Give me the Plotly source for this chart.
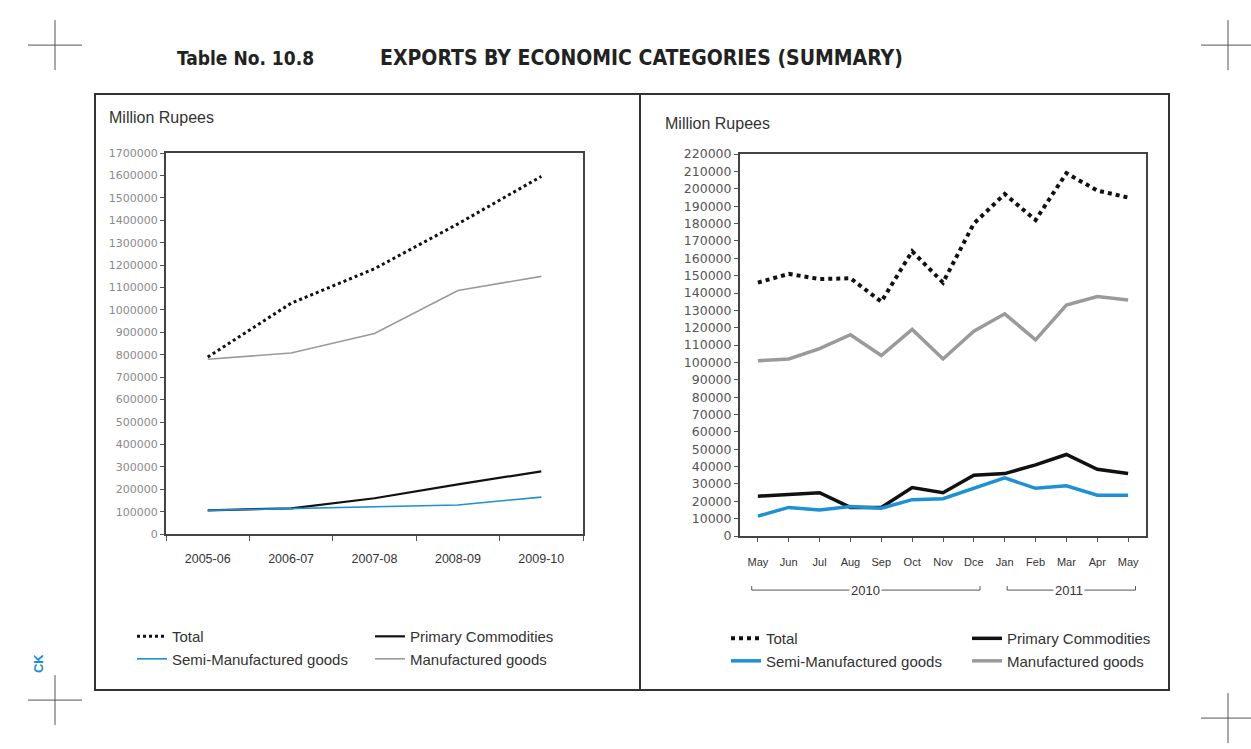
import plotly.graph_objects as go

W, H = 1251, 749

# ---------------- data ----------------
years = ["2005-06", "2006-07", "2007-08", "2008-09", "2009-10"]
y_total = [790000, 1030000, 1184000, 1384000, 1596000]
y_primary = [106000, 115000, 160000, 222000, 280000]
y_semi = [106000, 115000, 122000, 130000, 165000]
y_manuf = [780000, 808000, 895000, 1087000, 1150000]

months = ["May", "Jun", "Jul", "Aug", "Sep", "Oct", "Nov", "Dce", "Jan", "Feb", "Mar", "Apr", "May"]
m_total = [146000, 151000, 148000, 148500, 135000, 164000, 146000, 180000, 197000, 182000, 209000, 199000, 195000]
m_primary = [23000, 24000, 25000, 16500, 16500, 28000, 25000, 35000, 36000, 41000, 47000, 38500, 36000]
m_semi = [11500, 16500, 15000, 17000, 16000, 21000, 21500, 27500, 33500, 27500, 29000, 23500, 23500]
m_manuf = [101000, 102000, 108000, 116000, 104000, 119000, 102000, 118000, 128000, 113000, 133000, 138000, 136000]
month_idx = list(range(len(months)))

left_yticks = list(range(0, 1700001, 100000))
right_yticks = list(range(0, 220001, 10000))

BLACK = "#111111"
BLUE = "#1e90d4"
GRAY = "#9a9a9a"
SANS = "Liberation Sans, Arial, sans-serif"
NARROW = "Liberation Sans Narrow, DejaVu Sans Condensed, Arial Narrow, sans-serif"


def px(x):
    return x / W


def py(y):
    # vertical pixel (from top) -> paper fraction, compensating the observed vertical squeeze
    return 1 - ((y - 7.9) / 0.98) / H


fig = go.Figure()

# ---------------- left chart ----------------
fig.add_trace(go.Scatter(x=years, y=y_primary, name="Primary Commodities", mode="lines",
                         line=dict(color=BLACK, width=2.2), xaxis="x", yaxis="y",
                         legend="legend2", legendrank=1, legendgroup="lp"))
fig.add_trace(go.Scatter(x=years, y=y_semi, name="Semi-Manufactured goods", mode="lines",
                         line=dict(color=BLUE, width=1.6), xaxis="x", yaxis="y",
                         legend="legend", legendrank=2, legendgroup="ls"))
fig.add_trace(go.Scatter(x=years, y=y_manuf, name="Manufactured goods", mode="lines",
                         line=dict(color=GRAY, width=1.6), xaxis="x", yaxis="y",
                         legend="legend2", legendrank=2, legendgroup="lm"))
fig.add_trace(go.Scatter(x=years, y=y_total, name="Total", mode="lines",
                         line=dict(color=BLACK, width=3, dash="dot"), xaxis="x", yaxis="y",
                         legend="legend", legendrank=1, legendgroup="lt"))

# ---------------- right chart ----------------
fig.add_trace(go.Scatter(x=month_idx, y=m_primary, name="Primary Commodities", mode="lines",
                         line=dict(color=BLACK, width=3.5), xaxis="x2", yaxis="y2",
                         legend="legend4", legendrank=1, legendgroup="rp"))
fig.add_trace(go.Scatter(x=month_idx, y=m_semi, name="Semi-Manufactured goods", mode="lines",
                         line=dict(color=BLUE, width=3.5), xaxis="x2", yaxis="y2",
                         legend="legend3", legendrank=2, legendgroup="rs"))
fig.add_trace(go.Scatter(x=month_idx, y=m_manuf, name="Manufactured goods", mode="lines",
                         line=dict(color=GRAY, width=3.5), xaxis="x2", yaxis="y2",
                         legend="legend4", legendrank=2, legendgroup="rm"))
fig.add_trace(go.Scatter(x=month_idx, y=m_total, name="Total", mode="lines",
                         line=dict(color=BLACK, width=4, dash="dot"), xaxis="x2", yaxis="y2",
                         legend="legend3", legendrank=1, legendgroup="rt"))

frame = dict(showline=True, mirror=True, linewidth=2, linecolor="#444444",
             showgrid=False, zeroline=False, ticks="outside", tickcolor="#555555")

fig.update_layout(
    width=W, height=H,
    margin=dict(l=0, r=0, t=0, b=0),
    paper_bgcolor="white", plot_bgcolor="white",
    font=dict(family=SANS, color="#333333"),
    xaxis=dict(domain=[px(166), px(583)], type="category", range=[-0.5, 4.5],
               tickson="boundaries", ticklen=5, ticklabelstandoff=12,
               tickfont=dict(family=SANS, size=12.5, color="#333333"), **frame),
    yaxis=dict(domain=[py(534), py(153)], range=[0, 1700000], tickvals=left_yticks,
               tickformat="d", ticklen=4,
               tickfont=dict(family="DejaVu Sans, sans-serif", size=11, color="#8a8a8a"), **frame),
    xaxis2=dict(domain=[px(740), px(1146)], range=[-0.58, 12.58], tickvals=month_idx,
                ticktext=months, ticklen=4, anchor="y2", ticklabelstandoff=11,
                tickfont=dict(family=SANS, size=11, color="#333333"), **frame),
    yaxis2=dict(domain=[py(536), py(154)], range=[0, 220000], tickvals=right_yticks,
                tickformat="d", ticklen=4, anchor="x2",
                tickfont=dict(family="DejaVu Sans, sans-serif", size=12.5, color="#555555"), **frame),
)

leg_common = dict(orientation="v", xanchor="left", yanchor="top", bgcolor="rgba(0,0,0,0)",
                  font=dict(family=SANS, size=15, color="#333333"), itemwidth=30,
                  traceorder="grouped", tracegroupgap=0)
fig.update_layout(
    legend=dict(x=px(132), y=py(620), **leg_common),
    legend2=dict(x=px(370), y=py(620), **leg_common),
    legend3=dict(x=px(726), y=py(622), **leg_common),
    legend4=dict(x=px(967), y=py(622), **leg_common),
)

shapes = []
# outer box and divider
shapes.append(dict(type="rect", xref="paper", yref="paper", x0=px(95), x1=px(1169),
                   y0=py(690), y1=py(94), line=dict(color="#333333", width=2)))
shapes.append(dict(type="line", xref="paper", yref="paper", x0=px(640), x1=px(640),
                   y0=py(690), y1=py(94), line=dict(color="#333333", width=2)))
# crop marks
for cx, cy in [(55, 45), (1228, 45), (55, 700), (1228, 718)]:
    shapes.append(dict(type="line", xref="paper", yref="paper", x0=px(cx - 27), x1=px(min(cx + 27, W)),
                       y0=py(cy), y1=py(cy), line=dict(color="#555555", width=1)))
    shapes.append(dict(type="line", xref="paper", yref="paper", x0=px(cx), x1=px(cx),
                       y0=py(cy - 25), y1=py(cy + 25), line=dict(color="#555555", width=1)))
# year brackets (in x2 data coordinates)
for a, b in [(-0.2, 7.2), (8.08, 12.24)]:
    shapes.append(dict(type="line", xref="x2", yref="paper", x0=a, x1=b,
                       y0=py(590), y1=py(590), line=dict(color="#555555", width=1)))
    for e in (a, b):
        shapes.append(dict(type="line", xref="x2", yref="paper", x0=e, x1=e,
                           y0=py(590), y1=py(586), line=dict(color="#555555", width=1)))
fig.update_layout(shapes=shapes)

ann = [
    dict(text="<b>Table No. 10.8</b>", x=px(175), y=py(58), xanchor="left", yanchor="middle",
         font=dict(family=NARROW, size=19, color="#222222")),
    dict(text="<b>EXPORTS BY ECONOMIC CATEGORIES (SUMMARY)</b>", x=px(378), y=py(58),
         xanchor="left", yanchor="middle", font=dict(family=NARROW, size=21, color="#222222")),
    dict(text="Million Rupees", x=px(107), y=py(117), xanchor="left", yanchor="middle",
         font=dict(family=SANS, size=16, color="#333333")),
    dict(text="Million Rupees", x=px(663), y=py(123), xanchor="left", yanchor="middle",
         font=dict(family=SANS, size=16, color="#333333")),
    dict(text="<b>CK</b>", x=px(38), y=py(664), xanchor="center", yanchor="middle", textangle=-90,
         font=dict(family=SANS, size=13, color="#1e8fd0")),
    dict(text="2010", xref="x2", yref="paper", x=3.5, y=py(590), xanchor="center", yanchor="middle",
         bgcolor="white", borderpad=1, font=dict(family=SANS, size=13, color="#333333")),
    dict(text="2011", xref="x2", yref="paper", x=10.1, y=py(590), xanchor="center", yanchor="middle",
         bgcolor="white", borderpad=1, font=dict(family=SANS, size=13, color="#333333")),
]
for a in ann:
    a.setdefault("xref", "paper")
    a.setdefault("yref", "paper")
    a["showarrow"] = False
fig.update_layout(annotations=ann)

fig.write_html("out.html", config={"displayModeBar": False},
               post_script="document.body.style.margin='0px';document.body.style.padding='0px';")
